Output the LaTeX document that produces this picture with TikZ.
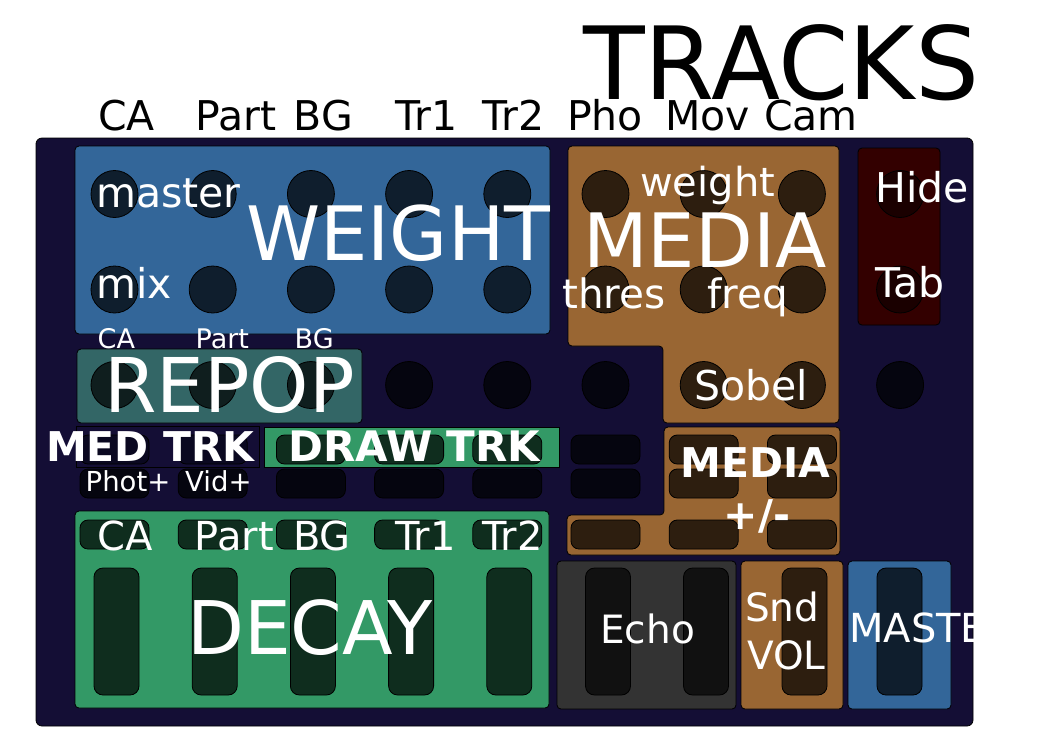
\documentclass[tikz,border=0pt]{standalone}
\usepackage{fontspec}
\setmainfont{DejaVu Sans}
\definecolor{board}{HTML}{140E35}
\definecolor{pblue}{HTML}{336699}
\definecolor{pbrown}{HTML}{996633}
\definecolor{pgreen}{HTML}{339966}
\definecolor{pteal}{HTML}{336666}
\definecolor{pred}{HTML}{330000}
\definecolor{pgray}{HTML}{333333}
\definecolor{kblue}{HTML}{0F1E2D}
\definecolor{kbrown}{HTML}{2D1E0F}
\definecolor{kgreen}{HTML}{0F2D1E}
\definecolor{kteal}{HTML}{0F1E1E}
\definecolor{kdark}{HTML}{05050F}
\definecolor{kmed}{HTML}{0A0820}
\definecolor{kred}{HTML}{1A0000}
\definecolor{kgray}{HTML}{111111}
\newcommand\fs[1]{\fontsize{#1}{#1}\selectfont}
\newcommand\mkknob[3]{\draw[knobst,fill=#3] (#1,#2) circle (23.5);}
\newcommand\mkbtn[3]{\draw[btnst,fill=#3] ({#1-34.5},{#2-14.5}) rectangle ({#1+34.5},{#2+14.5});}
\newcommand\mkfader[2]{\draw[btnst,rounded corners=9pt,fill=#2] ({#1-22.5},568) rectangle ({#1+22.5},695);}
\tikzset{
  panelst/.style={draw=black,line width=0.8pt,rounded corners=4pt},
  knobst/.style={draw=black,line width=0.8pt},
  btnst/.style={draw=black,line width=0.8pt,rounded corners=8pt},
  lbl/.style={inner sep=0pt,anchor=base west,text=white},
  toplbl/.style={inner sep=0pt,anchor=base west,text=black,font=\fs{41}},
}
\begin{document}
\begin{tikzpicture}[x=1pt,y=-1pt]
\useasboundingbox[fill=white] (0,0) rectangle (1043,732);
% column centres
\def\cA{114.5}\def\cB{212.7}\def\cC{310.9}\def\cD{409.1}\def\cE{507.3}
\def\cF{605.5}\def\cG{703.7}\def\cH{801.9}\def\cI{900.1}
% board
\draw[draw=black,line width=0.8pt,rounded corners=6pt,fill=board] (36,138) rectangle (973,726);
% panels
\draw[panelst,fill=pblue] (75,146) rectangle (550,334);
\draw[panelst,fill=pbrown] (568,146) -- (839,146) -- (839,423) -- (663,423) -- (663,346) -- (568,346) -- cycle;
\draw[panelst,fill=pred] (858,148) rectangle (940,325);
\draw[panelst,fill=pteal] (77,349) rectangle (362,423);
\draw[draw=black,line width=0.8pt,fill=board] (76,426) rectangle (259,467);
\draw[draw=black,line width=0.5pt,fill=pgreen] (264,427) rectangle (559,467);
\draw[panelst,fill=pbrown] (664,427) -- (840,427) -- (840,555) -- (567,555) -- (567,515) -- (664,515) -- cycle;
\draw[panelst,fill=pgreen] (75,511) rectangle (549,708);
\draw[panelst,fill=pgray] (557,561) rectangle (736,709);
\draw[panelst,fill=pbrown] (741,561) rectangle (843,709);
\draw[panelst,fill=pblue] (848,561) rectangle (951,709);
% knobs row 1 and 2
\foreach \x in {\cA,\cB,\cC,\cD,\cE}{\mkknob{\x}{194}{kblue}\mkknob{\x}{289.5}{kblue}}
\foreach \x in {\cF,\cG,\cH}{\mkknob{\x}{194}{kbrown}\mkknob{\x}{289.5}{kbrown}}
\mkknob{\cI}{194}{kred}\mkknob{\cI}{289.5}{kred}
% knobs row 3
\foreach \x in {\cA,\cB,\cC}{\mkknob{\x}{385}{kteal}}
\foreach \x in {\cD,\cE,\cF,\cI}{\mkknob{\x}{385}{kdark}}
\foreach \x in {\cG,\cH}{\mkknob{\x}{385}{kbrown}}
% buttons row 1
\foreach \x in {\cA,\cB}{\mkbtn{\x}{449.5}{kmed}}
\foreach \x in {\cC,\cD,\cE}{\mkbtn{\x}{449.5}{kgreen}}
\mkbtn{\cF}{449.5}{kdark}
\foreach \x in {\cG,\cH}{\mkbtn{\x}{449.5}{kbrown}}
% buttons row 2
\foreach \x in {\cA,\cB,\cC,\cD,\cE,\cF}{\mkbtn{\x}{483.5}{kdark}}
\foreach \x in {\cG,\cH}{\mkbtn{\x}{483.5}{kbrown}}
% buttons row 3
\foreach \x in {\cA,\cB,\cC,\cD,\cE}{\mkbtn{\x}{534.5}{kgreen}}
\foreach \x in {\cF,\cG,\cH}{\mkbtn{\x}{534.5}{kbrown}}
% faders
\foreach \x in {\cA,\cB,\cC,\cD,\cE}{\mkfader{\x+2}{kgreen}}
\mkfader{608}{kgray}\mkfader{706}{kgray}
\mkfader{804.5}{kbrown}
\mkfader{899.5}{kblue}
% header texts
\node[inner sep=0pt,anchor=base west,font=\fs{101}] (tracks) at (583,99) {TRACKS};
\node[toplbl] (hca) at (98,130) {CA};
\node[toplbl] (hpart) at (195,130) {Part};
\node[toplbl] (hbg) at (293.5,130) {BG};
\node[toplbl] (htra) at (395,130) {Tr1};
\node[toplbl] (htrb) at (482,130) {Tr2};
\node[toplbl] (hpho) at (567,130) {Pho};
\node[toplbl] (hmov) at (665,130) {Mov};
\node[toplbl] (hcam) at (764,130) {Cam};
% weight
\node[lbl,font=\fs{41}] (master) at (96,207) {master};
\node[lbl,font=\fs{41}] (mix) at (96,298) {mix};
\node[lbl,font=\fs{75}] (weight) at (246,260) {WEIGHT};
\node[lbl,font=\fs{27}] (sca) at (97.5,348) {CA};
\node[lbl,font=\fs{27}] (spart) at (195.5,348) {Part};
\node[lbl,font=\fs{27}] (sbg) at (294.5,348) {BG};
% media
\node[lbl,font=\fs{40}] (mweight) at (640,196) {weight};
\node[lbl,font=\fs{75}] (media) at (583,267) {MEDIA};
\node[lbl,font=\fs{40.5}] (thres) at (562,308) {thres};
\node[lbl,font=\fs{40.5}] (freq) at (707,308) {freq};
\node[lbl,font=\fs{41}] (hide) at (875,202) {Hide};
\node[lbl,font=\fs{41}] (tab) at (875,297) {Tab};
\node[lbl,font=\fs{41}] (sobel) at (694,400) {Sobel};
% repop / tracks
\node[lbl,font=\fs{75.5}] (repop) at (104,412) {REPOP};
\node[lbl,font=\bfseries\fs{41}] (medtrk) at (46,461) {MED TRK};
\node[lbl,font=\bfseries\fs{42}] (drawtrk) at (288,461) {DRAW TRK};
\node[lbl,font=\fs{27.5}] (phot) at (85.5,491) {Phot+};
\node[lbl,font=\fs{27.5}] (vid) at (185,491) {Vid+};
\node[lbl,font=\bfseries\fs{41}] (mediapm) at (680,477) {MEDIA};
\node[inner sep=0pt,anchor=base,text=white,font=\bfseries\fs{41}] (pm) at (757,529) {+/-};
% decay
\node[lbl,font=\fs{40}] (dca) at (97,550) {CA};
\node[lbl,font=\fs{40}] (dpart) at (194.5,550) {Part};
\node[lbl,font=\fs{40}] (dbg) at (293,550) {BG};
\node[lbl,font=\fs{40}] (dtra) at (395,550) {Tr1};
\node[lbl,font=\fs{40}] (dtrb) at (482,550) {Tr2};
\node[lbl,font=\fs{74}] (decay) at (187,654) {DECAY};
% bottom right
\node[lbl,font=\fs{39}] (echo) at (600,643) {Echo};
\node[lbl,font=\fs{39}] (snd) at (745,621) {Snd};
\node[lbl,font=\fs{39}] (vol) at (747,669) {VOL};
\begin{scope}
\clip (0,0) rectangle (973,732);
\node[lbl,font=\fs{40}] (mastertxt) at (849,642) {MASTER};
\end{scope}
\end{tikzpicture}
\end{document}
